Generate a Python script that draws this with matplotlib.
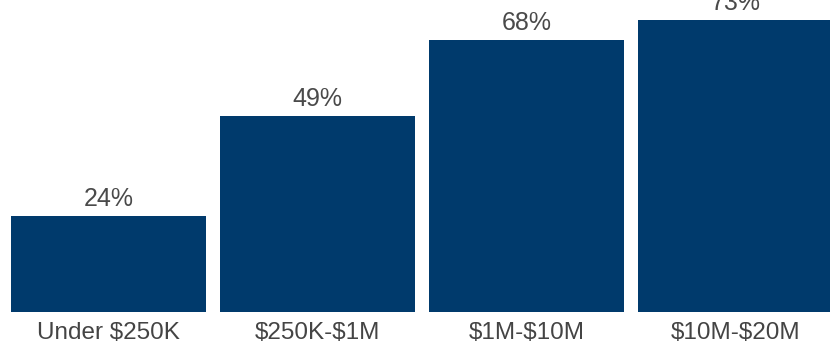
import matplotlib
matplotlib.use("Agg")
import matplotlib.pyplot as plt

categories = ["Under $250K", "$250K-$1M", "$1M-$10M", "$10M-$20M"]
values = [24, 49, 68, 73]
labels = ["24%", "49%", "68%", "73%"]

plt.rcParams['font.family'] = ['Liberation Sans', 'DejaVu Sans']
plt.rcParams['text.parse_math'] = False

fig = plt.figure(figsize=(8.3, 3.46), dpi=100)
ax = fig.add_axes([0, 34 / 346, 1, 312 / 346])

x = range(len(categories))
bars = ax.bar(x, values, width=0.933, color="#003a6c")

for b, lab in zip(bars, labels):
    ax.text(b.get_x() + b.get_width() / 2, b.get_height() + 1.3, lab,
            ha="center", va="bottom", fontsize=18, color="#4a4a4a", clip_on=False)

ax.set_xlim(-0.519, 3.452)
ax.set_ylim(0, 78)
ax.set_xticks(list(x))
ax.set_xticklabels(categories, fontsize=17.5, color="#444444")
ax.tick_params(axis="x", length=0, pad=7)
ax.set_yticks([])
for s in ax.spines.values():
    s.set_visible(False)

fig.savefig("out.png", dpi=100)
